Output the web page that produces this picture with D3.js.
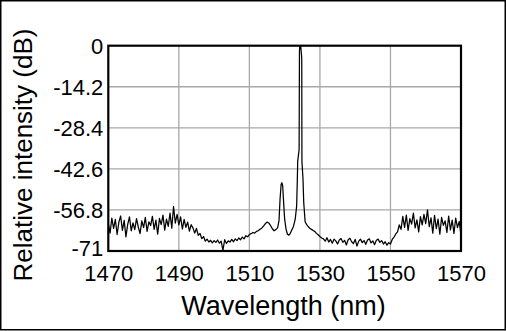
<!DOCTYPE html>
<html><head><meta charset="utf-8">
<script src="https://cdn.jsdelivr.net/npm/d3@7/dist/d3.min.js"></script>
<style>html,body{margin:0;padding:0;background:#fff;}svg{display:block;}</style>
</head><body>
<svg id="chart" width="506" height="331"></svg>
<script>
// Measured spectrum: wavelength (nm) and relative intensity (dB)
const wavelength = [
  1470,1470.5,1471,1471.5,1472,1472.5,1473,1473.5,1474,1474.5,
  1475,1475.5,1476,1476.5,1477,1477.5,1478,1478.5,1479,1479.5,
  1480,1480.5,1481,1481.5,1482,1482.5,1483,1483.5,1484,1484.5,
  1485,1485.5,1486,1486.5,1487,1487.5,1488,1488.5,1489,1489.5,
  1490,1490.5,1491,1491.5,1492,1492.5,1493,1493.5,1494,1494.5,
  1495,1495.5,1496,1496.5,1497,1497.5,1498,1498.5,1499,1499.5,
  1500,1500.5,1501,1501.5,1502,1502.5,1503,1503.5,1504,1504.5,
  1505,1505.5,1506,1506.5,1507,1507.5,1508,1508.5,1509,1509.5,
  1510,1510.5,1511,1511.5,1512,1512.5,1513,1513.5,1514,1514.5,
  1515,1515.5,1516,1516.5,1517,1517.5,1518,1518.4,1518.7,1519,
  1519.2,1519.45,1519.7,1520,1520.4,1520.8,1521.2,1521.6,1522,1522.5,
  1523,1523.4,1523.6,1523.7,1524.1,1524.2,1524.3,1524.55,1524.8,1524.85,
  1524.9,1525.2,1525.4,1525.8,1526.2,1526.7,1527.2,1527.7,1528.2,1528.6,
  1529,1529.5,1530,1530.5,1531,1531.5,1532,1532.5,1533,1533.5,
  1534,1534.5,1535,1535.5,1536,1536.5,1537,1537.5,1538,1538.5,
  1539,1539.5,1540,1540.5,1541,1541.5,1542,1542.5,1543,1543.5,
  1544,1544.5,1545,1545.5,1546,1546.5,1547,1547.5,1548,1548.5,
  1549,1549.5,1550,1550.5,1551,1551.5,1552,1552.5,1553,1553.5,
  1554,1554.5,1555,1555.5,1556,1556.5,1557,1557.5,1558,1558.5,
  1559,1559.5,1560,1560.5,1561,1561.5,1562,1562.5,1563,1563.5,
  1564,1564.5,1565,1565.5,1566,1566.5,1567,1567.5,1568,1568.5,
  1569,1569.5,1570
];
const intensity = [
  -61.5,-64.8,-59.6,-63.2,-60.1,-65.3,-61.0,-58.9,-63.9,-60.4,
  -66.1,-61.8,-59.2,-64.0,-61.3,-63.6,-59.8,-62.7,-65.0,-60.6,
  -62.9,-59.4,-64.2,-60.9,-62.2,-59.0,-63.5,-60.3,-65.2,-59.7,
  -61.9,-58.6,-63.8,-60.0,-62.5,-57.9,-63.1,-55.6,-61.4,-58.3,
  -62.0,-59.2,-63.4,-60.1,-62.8,-61.0,-64.1,-61.9,-63.0,-64.8,
  -63.2,-65.6,-64.9,-66.7,-66.0,-67.6,-66.9,-67.9,-67.3,-68.2,
  -67.4,-68.0,-67.2,-68.3,-67.6,-70.8,-67.1,-68.4,-67.5,-67.9,
  -67.0,-67.8,-66.8,-67.4,-66.5,-67.1,-66.2,-66.8,-65.7,-66.1,
  -65.3,-65.0,-64.6,-64.8,-64.2,-64.0,-63.5,-63.1,-62.4,-61.6,
  -61.0,-61.3,-62.2,-63.3,-64.0,-63.6,-63.0,-60.5,-53.0,-48.0,
  -47.4,-48.5,-54.0,-60.0,-63.5,-65.2,-65.5,-64.9,-63.8,-62.5,
  -60.0,-55.5,-46.0,-40.0,-36.0,-2.0,0,0,-3.5,-5.0,
  -40.0,-46.0,-54.0,-60.9,-61.8,-62.6,-63.2,-63.6,-64.0,-64.3,
  -64.9,-65.4,-66.0,-66.5,-66.8,-67.6,-66.4,-67.9,-67.0,-68.3,
  -66.9,-67.5,-68.6,-67.2,-66.7,-68.0,-67.3,-68.9,-67.1,-66.6,
  -67.8,-68.4,-67.0,-69.3,-67.6,-66.9,-68.1,-67.4,-68.7,-67.2,
  -66.8,-68.2,-67.5,-68.8,-67.3,-66.9,-68.0,-67.4,-68.6,-67.8,
  -69.0,-68.1,-68.6,-67.0,-66.2,-65.1,-64.4,-62.0,-63.5,-59.0,
  -62.8,-58.6,-63.9,-59.8,-61.7,-57.9,-63.0,-60.2,-64.4,-59.1,
  -62.0,-58.3,-61.5,-56.8,-62.6,-59.5,-64.8,-58.7,-63.3,-60.0,
  -65.2,-59.4,-62.1,-60.6,-64.6,-58.9,-63.7,-60.3,-64.9,-59.6,
  -62.9,-60.8,-65.5
];
const xTicks = [1470, 1490, 1510, 1530, 1550, 1570];
const yTicks = [0, -14.2, -28.4, -42.6, -56.8, -71];
const yTickLabels = ["0", "-14.2", "-28.4", "-42.6", "-56.8", "-71"];
const xTitle = "Wavelength (nm)";
const yTitle = "Relative intensity (dB)";

const W = 506, H = 331;
const plot = { left: 108.3, right: 461, top: 45.7, bottom: 251 };
const font = "'Liberation Sans', Arial, sans-serif";

const svg = d3.select("#chart");

// outer frame
svg.append("rect")
  .attr("x", 0.75).attr("y", 0.75)
  .attr("width", W - 1.5).attr("height", H - 2)
  .attr("fill", "#fff").attr("stroke", "#000").attr("stroke-width", 1.5);

const x = d3.scaleLinear().domain([1470, 1570]).range([plot.left, plot.right]);
const y = d3.scaleLinear().domain([-71, 0]).range([plot.bottom, plot.top]);

// grid lines
const grid = svg.append("g").attr("stroke", "#a8a8a8").attr("stroke-width", 1.3);
grid.selectAll("line.gx").data(xTicks.slice(1, -1)).join("line")
  .attr("class", "gx")
  .attr("x1", d => x(d)).attr("x2", d => x(d))
  .attr("y1", plot.top).attr("y2", plot.bottom);
grid.selectAll("line.gy").data(yTicks.slice(1, -1)).join("line")
  .attr("class", "gy")
  .attr("x1", plot.left).attr("x2", plot.right)
  .attr("y1", d => y(d)).attr("y2", d => y(d));

// spectrum trace
svg.append("clipPath").attr("id", "clip")
  .append("rect")
  .attr("x", plot.left).attr("y", plot.top - 1)
  .attr("width", plot.right - plot.left).attr("height", plot.bottom - plot.top + 1);

const pts = wavelength.map((w, i) => [w, intensity[i]]);
const line = d3.line().x(d => x(d[0])).y(d => y(d[1]));
svg.append("path")
  .attr("clip-path", "url(#clip)")
  .attr("d", line(pts))
  .attr("fill", "none")
  .attr("stroke", "#000")
  .attr("stroke-width", 1.25)
  .attr("stroke-linejoin", "round");

// plot border
svg.append("rect")
  .attr("x", plot.left).attr("y", plot.top)
  .attr("width", plot.right - plot.left).attr("height", plot.bottom - plot.top)
  .attr("fill", "none").attr("stroke", "#000").attr("stroke-width", 2.2);

// x axis labels
const xAxis = d3.axisBottom(x).tickValues(xTicks).tickSize(0).tickPadding(0)
  .tickFormat(d3.format("d"));
const gx = svg.append("g").attr("transform", `translate(0,${plot.bottom})`).call(xAxis);
gx.select(".domain").remove();
gx.selectAll("text")
  .attr("y", 29.5).attr("dy", null)
  .attr("font-family", font).attr("font-size", 22).attr("fill", "#000");

// y axis labels (the lowest one sits a little higher to clear the x labels)
const yAxis = d3.axisLeft(y).tickValues(yTicks).tickSize(0).tickPadding(0)
  .tickFormat((d, i) => yTickLabels[i]);
const gy = svg.append("g").attr("transform", `translate(${plot.left},0)`).call(yAxis);
gy.select(".domain").remove();
gy.selectAll("text")
  .attr("x", -5).attr("dy", "0.36em")
  .attr("y", (d, i) => i === yTicks.length - 1 ? -3 : 0)
  .attr("font-family", font).attr("font-size", 22).attr("fill", "#000");

// axis titles
svg.append("text")
  .attr("x", 283.5).attr("y", 315)
  .attr("text-anchor", "middle")
  .attr("font-family", font).attr("font-size", 27).attr("fill", "#000")
  .text(xTitle);
svg.append("text")
  .attr("transform", "translate(32,155) rotate(-90)")
  .attr("text-anchor", "middle")
  .attr("font-family", font).attr("font-size", 26).attr("fill", "#000")
  .text(yTitle);
</script>
</body></html>
